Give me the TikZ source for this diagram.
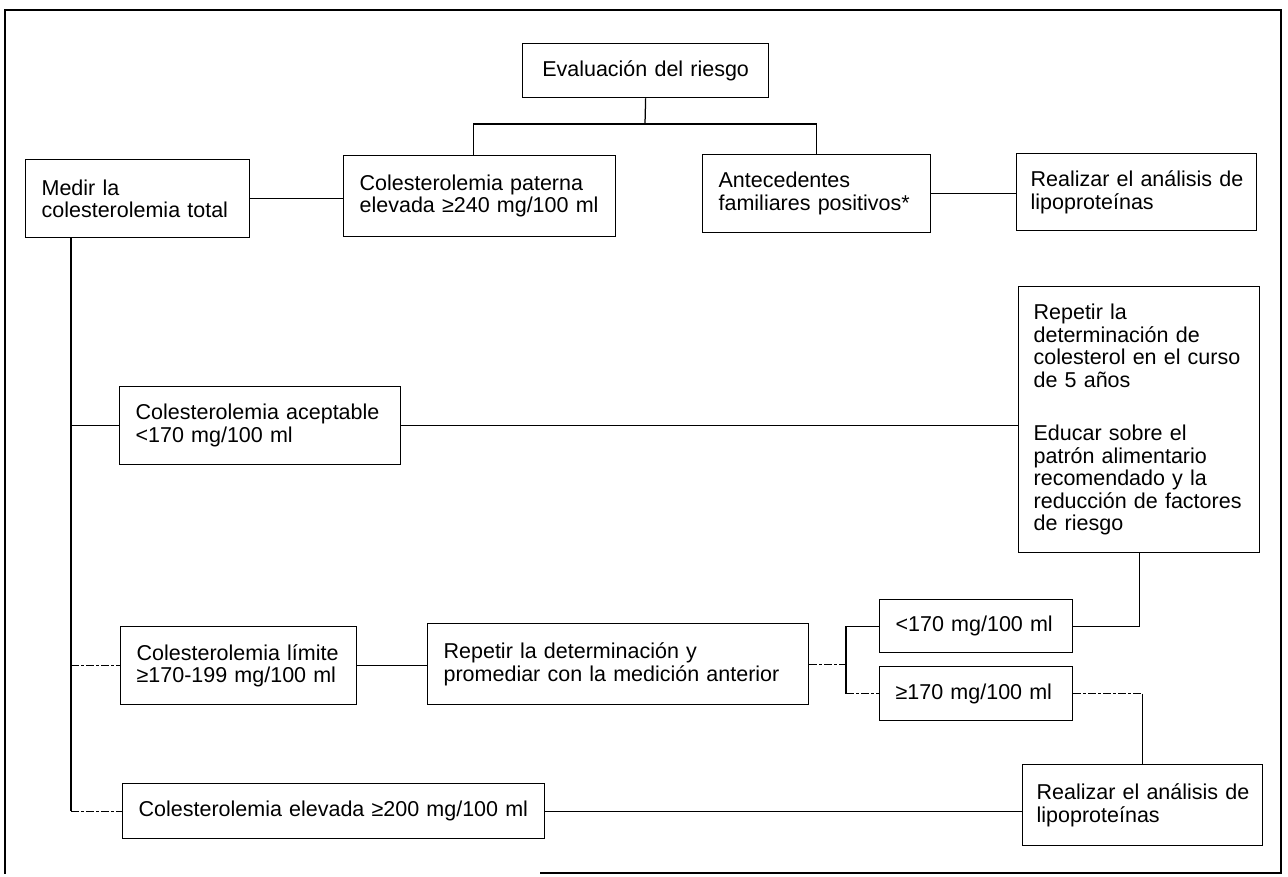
\documentclass[tikz,border=0pt]{standalone}
\usepackage{fontspec}
\setmainfont{Liberation Sans}
\begin{document}
\begin{tikzpicture}[x=1pt,y=-1pt,
  flowbox/.style={draw, line width=1.25pt, align=left, anchor=north west,
    inner xsep=16pt, inner ysep=0pt, font=\fontsize{21.5pt}{22.5pt}\selectfont},
  link/.style={line width=1.25pt},
  worn/.style={line width=1.25pt, dash pattern=on 8pt off 2pt on 3pt off 2pt}]
\useasboundingbox (0,0) rectangle (1288,876);

% outer frame
\draw[line width=1.3pt] (540,873) -- (1281,873) -- (1281,10) -- (5,10) -- (5,874);

% boxes
\node[flowbox, align=center, text width=214pt, minimum height=54pt] (eval) at (522,43) {Evaluación del riesgo};
\node[flowbox, text width=192pt, minimum height=78pt] (medir) at (25,159) {Medir la\\colesterolemia total};
\node[flowbox, text width=240pt, minimum height=81pt] (paterna) at (343,155) {Colesterolemia paterna\\elevada ≥240 mg/100 ml};
\node[flowbox, text width=196pt, minimum height=78pt] (antec) at (702,154) {Antecedentes\\familiares positivos*};
\node[flowbox, inner xsep=14pt, text width=212pt, minimum height=77pt] (realA) at (1016,153) {\mbox{Realizar el análisis de}\\lipoproteínas};
\node[flowbox, text width=249pt, minimum height=78pt] (acept) at (119,386) {Colesterolemia aceptable\\<170 mg/100 ml};
\node[flowbox, inner xsep=15pt, text width=211pt, minimum height=266pt] (repet5) at (1018,286) {Repetir la\\determinación de\\colesterol en el curso\\de 5 años\\[31pt]Educar sobre el\\patrón alimentario\\recomendado y la\\reducción de factores\\de riesgo};
\node[flowbox, text width=204pt, minimum height=78pt] (limite) at (120,626) {Colesterolemia límite\\≥170-199 mg/100 ml};
\node[flowbox, text width=349pt, minimum height=81pt] (promed) at (427,623) {Repetir la determinación y\\promediar con la medición anterior};
\node[flowbox, text width=161pt, minimum height=53pt] (lt) at (879,599) {<170 mg/100 ml};
\node[flowbox, text width=161pt, minimum height=54pt] (ge) at (879,666) {≥170 mg/100 ml};
\node[flowbox, text width=390pt, minimum height=55pt] (elev) at (122,783) {Colesterolemia elevada ≥200 mg/100 ml};
\node[flowbox, inner xsep=14pt, text width=212pt, minimum height=81pt] (realB) at (1022,764) {\mbox{Realizar el análisis de}\\lipoproteínas};

% top branching
\coordinate (fork) at (645,124);
\draw[link] (eval.south) -- (fork);
\draw[link] ([xshift=-6pt]paterna.north) |- (fork) -| (antec.north);
\draw[link] (medir.east) -- (medir.east -| paterna.west);
\draw[link] (antec.east) -- (antec.east -| realA.west);

% left spine
\coordinate (spineTop) at ([xshift=46pt]medir.south west);
\coordinate (spineEnd) at (spineTop |- elev.west);
\draw[link] (spineTop) -- (spineEnd);
\draw[worn] (spineEnd) -- (elev.west);
\draw[link] (spineTop |- acept.west) -- (acept.west);
\draw[worn] (spineTop |- limite.west) -- (limite.west);

% acceptable level
\draw[link] (acept.east) -- (acept.east -| repet5.west);

% borderline level
\draw[link] (limite.east) -- (limite.east -| promed.west);
\coordinate (brk) at (846,663);
\draw[worn] (promed.east) -- (promed.east -| brk);
\draw[link] (lt.west) -| (brk |- ge.west);
\draw[worn] (brk |- ge.west) -- (ge.west);
\draw[link] (repet5.south) |- (lt.east);
\draw[worn] (ge.east) -- (ge.east -| realB.north);
\draw[link] (ge.east -| realB.north) -- (realB.north);

% high level
\draw[link] (elev.east) -- (elev.east -| realB.west);
\end{tikzpicture}
\end{document}
